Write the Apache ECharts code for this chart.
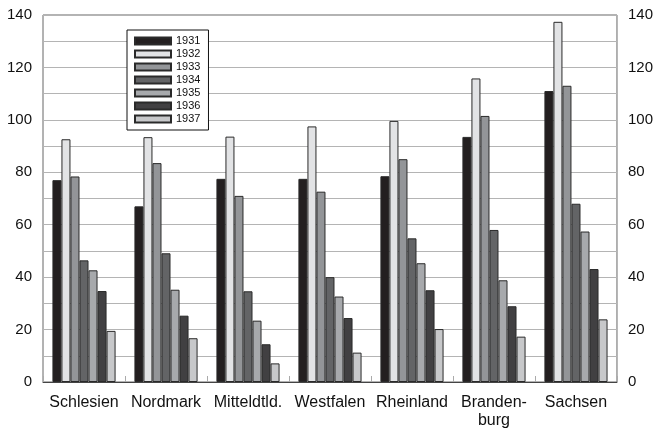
<!DOCTYPE html>
<html>
<head>
    <meta charset="UTF-8">
    <title>Provinzen 1931-1937</title>
    <script src="https://cdn.jsdelivr.net/npm/echarts@6/dist/echarts.min.js"></script>
    <style>
        html, body { margin: 0; padding: 0; background: #fff; }
        #chart { width: 656px; height: 434px; }
    </style>
</head>
<body>
<div id="chart"></div>
<script>
    // Kategorien und Werte
    var regions = ['Schlesien', 'Nordmark', 'Mitteldtld.', 'Westfalen', 'Rheinland', 'Branden-\nburg', 'Sachsen'];
    var years = ['1931', '1932', '1933', '1934', '1935', '1936', '1937'];
    var v1931 = [77, 67, 77.5, 77.5, 78.5, 93.5, 111];
    var v1932 = [92.6, 93.4, 93.6, 97.5, 99.6, 115.8, 137.4];
    var v1933 = [78.4, 83.5, 71, 72.6, 85, 101.5, 113];
    var v1934 = [46.4, 49.1, 34.6, 40, 54.8, 58, 68];
    var v1935 = [42.6, 35.2, 23.4, 32.6, 45.3, 38.8, 57.4];
    var v1936 = [34.7, 25.3, 14.4, 24.4, 35, 28.9, 43.1];
    var v1937 = [19.5, 16.7, 7.1, 11.2, 20.2, 17.3, 23.9];
    var yTicks = [0, 20, 40, 60, 80, 100, 120, 140];

    var values = [v1931, v1932, v1933, v1934, v1935, v1936, v1937];
    var colors = ['#231f20', '#e2e3e5', '#939598', '#636466', '#a7a9ac', '#414042', '#c7c8ca'];
    var font = 'Liberation Sans, Arial, sans-serif';

    var myChart = echarts.init(document.getElementById('chart'));

    var series = years.map(function (y, i) {
        return {
            name: y,
            type: 'bar',
            data: values[i],
            barGap: 0,
            barCategoryGap: '23%',
            itemStyle: {color: colors[i], borderColor: '#2a2a2a', borderWidth: 1}
        };
    });

    var yAxisBase = function (pos) {
        return {
            type: 'value',
            position: pos,
            min: 0,
            max: 140,
            interval: 10,
            axisLine: {show: false},
            axisTick: {show: false},
            splitLine: {show: pos === 'left', lineStyle: {color: '#b4b4b4', width: 1}},
            axisLabel: {
                fontFamily: font,
                fontSize: 15,
                color: '#111',
                margin: 11,
                formatter: function (v) {
                    return yTicks.indexOf(v) >= 0 ? String(v) : '';
                }
            }
        };
    };

    var option = {
        animation: false,
        backgroundColor: '#fff',
        grid: {
            left: 43, right: 39, top: 15, bottom: 52,
            show: true, borderColor: '#666', borderWidth: 1
        },
        legend: {
            orient: 'vertical',
            left: 127,
            top: 30,
            padding: [5, 8, 5, 7],
            icon: 'rect',
            itemWidth: 36,
            itemHeight: 7,
            itemGap: 1,
            backgroundColor: '#fff',
            borderColor: '#111',
            borderWidth: 1,
            borderRadius: 0,
            textStyle: {fontFamily: font, fontSize: 11, color: '#111', lineHeight: 12},
            data: years
        },
        xAxis: {
            type: 'category',
            data: regions,
            axisLine: {lineStyle: {color: '#444', width: 1}},
            axisTick: {show: true, inside: true, length: 6, lineStyle: {color: '#aaa'}},
            axisLabel: {interval: 0, fontFamily: font, fontSize: 16, color: '#111', margin: 12, lineHeight: 18}
        },
        yAxis: [yAxisBase('left'), yAxisBase('right')],
        series: series
    };
    myChart.setOption(option);
</script>
</body>
</html>
